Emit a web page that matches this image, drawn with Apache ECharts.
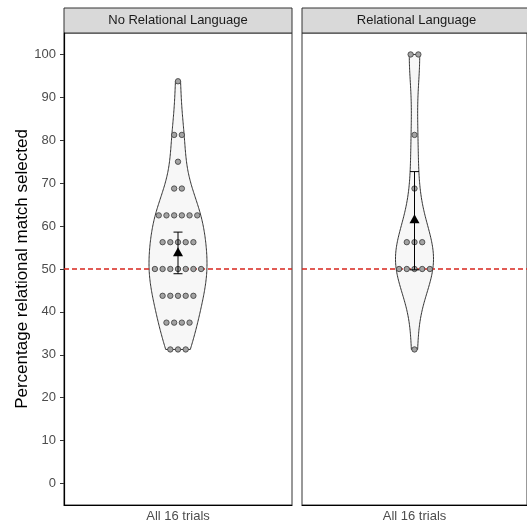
<!DOCTYPE html>
<html>
<head>
<meta charset="utf-8">
<script src="https://cdn.jsdelivr.net/npm/echarts@6/dist/echarts.min.js"></script>
<style>
html, body { margin: 0; padding: 0; background: #fff; }
#chart { width: 527px; height: 527px; }
</style>
</head>
<body>
<div id="chart"></div>
<script>
// facets and the single x category
const panels = ['No Relational Language', 'Relational Language'];
const xCategory = ['All 16 trials'];
// score levels (k of 16 trials) and number of participants at each level
const scoreLevels = [31.25, 37.5, 43.75, 50, 56.25, 62.5, 68.75, 75, 81.25, 87.5, 93.75, 100];
const noLangCounts = [3, 4, 5, 7, 5, 6, 2, 1, 2, 0, 1, 0];
const langCounts = [1, 0, 0, 5, 3, 0, 1, 0, 1, 0, 0, 2];
// mean and confidence interval per facet
const means = [53.8, 61.5];
const ciLow = [48.9, 49.8];
const ciHigh = [58.6, 72.7];
const chanceLevel = 50;
const yTicks = [0, 10, 20, 30, 40, 50, 60, 70, 80, 90, 100];

const FONT = 'Liberation Sans, Arial, sans-serif';
const RED = '#D7261E';
const violinHalf = [29, 19]; // px, widest point of each violin
const dotStep = 7.7;

function expand(counts) {
	let out = [];
	scoreLevels.forEach((v, i) => {
		for (let k = 0; k < counts[i]; k++) out.push(v);
	});
	return out;
}

function quantile(sorted, p) {
	let h = (sorted.length - 1) * p;
	let lo = Math.floor(h);
	let hi = Math.min(lo + 1, sorted.length - 1);
	return sorted[lo] + (h - lo) * (sorted[hi] - sorted[lo]);
}

// gaussian kde, bw.nrd0, trimmed to the data range (like geom_violin)
function density(values) {
	let x = values.slice().sort((a, b) => a - b);
	let n = x.length;
	let mean = x.reduce((a, b) => a + b, 0) / n;
	let sd = Math.sqrt(x.reduce((a, b) => a + (b - mean) * (b - mean), 0) / (n - 1));
	let iqr = quantile(x, 0.75) - quantile(x, 0.25);
	let bw = 0.9 * Math.min(sd, iqr / 1.34) * Math.pow(n, -0.2);
	let lo = x[0], hi = x[n - 1];
	let pts = [];
	let steps = 200;
	for (let i = 0; i <= steps; i++) {
		let g = lo + (hi - lo) * i / steps;
		let d = 0;
		x.forEach((v) => {
			let z = (g - v) / bw;
			d += Math.exp(-0.5 * z * z);
		});
		pts.push([g, d / (n * bw * Math.sqrt(2 * Math.PI))]);
	}
	return pts;
}

const groups = [noLangCounts, langCounts].map(expand);
const curves = groups.map(density);

function violinSeries(p) {
	let curve = curves[p];
	let maxD = Math.max(...curve.map((c) => c[1]));
	return {
		type: 'custom',
		xAxisIndex: p,
		yAxisIndex: p,
		z: 1,
		data: [[0, chanceLevel]],
		renderItem: (params, api) => {
			let right = [], left = [];
			curve.forEach(([v, d]) => {
				let c = api.coord([0, v]);
				let w = d / maxD * violinHalf[p];
				right.push([c[0] + w, c[1]]);
				left.push([c[0] - w, c[1]]);
			});
			return {
				type: 'polygon',
				shape: { points: right.concat(left.reverse()) },
				style: { fill: '#F7F7F7', stroke: '#333333', lineWidth: 1 }
			};
		}
	};
}

// dashed chance line across the whole panel
function refLineSeries(p) {
	return {
		type: 'custom',
		xAxisIndex: p,
		yAxisIndex: p,
		z: 2,
		silent: true,
		data: [[0, chanceLevel]],
		renderItem: (params, api) => {
			let y = api.coord([0, api.value(1)])[1];
			let cs = params.coordSys;
			return {
				type: 'line',
				shape: { x1: cs.x, y1: y, x2: cs.x + cs.width, y2: y },
				style: { stroke: RED, lineWidth: 1.3, lineDash: [5, 3] }
			};
		}
	};
}

function dotSeries(p) {
	let counts = p == 0 ? noLangCounts : langCounts;
	let data = [];
	scoreLevels.forEach((v, i) => {
		for (let k = 0; k < counts[i]; k++) data.push([0, v, k, counts[i]]);
	});
	return {
		type: 'custom',
		xAxisIndex: p,
		yAxisIndex: p,
		z: 3,
		encode: { x: 0, y: 1 },
		data: data,
		renderItem: (params, api) => {
			let c = api.coord([0, api.value(1)]);
			let k = api.value(2), n = api.value(3);
			return {
				type: 'circle',
				shape: { cx: c[0] + (k - (n - 1) / 2) * dotStep, cy: c[1], r: 2.7 },
				style: { fill: '#A3A3A3', stroke: '#3A3A3A', lineWidth: 0.8 }
			};
		}
	};
}

function statSeries(p) {
	return {
		type: 'custom',
		xAxisIndex: p,
		yAxisIndex: p,
		z: 4,
		encode: { x: 0, y: 1 },
		data: [[0, means[p], ciLow[p], ciHigh[p]]],
		renderItem: (params, api) => {
			let m = api.coord([0, api.value(1)]);
			let lo = api.coord([0, api.value(2)]);
			let hi = api.coord([0, api.value(3)]);
			let x = m[0], cap = 4.5;
			let ls = { stroke: '#000', lineWidth: 1 };
			return {
				type: 'group',
				children: [
					{ type: 'line', shape: { x1: x, y1: lo[1], x2: x, y2: hi[1] }, style: ls },
					{ type: 'line', shape: { x1: x - cap, y1: lo[1], x2: x + cap, y2: lo[1] }, style: ls },
					{ type: 'line', shape: { x1: x - cap, y1: hi[1], x2: x + cap, y2: hi[1] }, style: ls },
					{
						type: 'polygon',
						shape: { points: [[x, m[1] - 5.5], [x + 5, m[1] + 3.5], [x - 5, m[1] + 3.5]] },
						style: { fill: '#000' }
					}
				]
			};
		}
	};
}

const grids = [
	{ left: 64, top: 33, width: 228, height: 472 },
	{ left: 302, top: 33, width: 229, height: 472 }
];

let option = {
	animation: false,
	backgroundColor: '#fff',
	textStyle: { fontFamily: FONT },
	grid: grids.map((g) => ({ ...g, show: true, borderColor: '#333', borderWidth: 1, backgroundColor: '#fff' })),
	xAxis: panels.map((name, p) => ({
		type: 'category',
		gridIndex: p,
		data: xCategory,
		axisLine: { onZero: false, lineStyle: { color: '#000', width: 1.2 } },
		axisTick: { alignWithLabel: true, length: 4, lineStyle: { color: '#333' } },
		axisLabel: { color: '#4D4D4D', fontSize: 13, margin: 5, fontFamily: FONT },
		splitLine: { show: false }
	})),
	yAxis: panels.map((name, p) => ({
		type: 'value',
		gridIndex: p,
		min: -5,
		max: 105,
		name: p == 0 ? 'Percentage relational match selected' : '',
		nameLocation: 'middle',
		nameGap: 28,
		nameTextStyle: { color: '#000', fontSize: 17, fontFamily: FONT },
		axisLine: { show: p == 0, onZero: false, lineStyle: { color: '#000', width: 1.2 } },
		axisTick: { show: p == 0, length: 4, customValues: yTicks, lineStyle: { color: '#333' } },
		axisLabel: { show: p == 0, customValues: yTicks, color: '#4D4D4D', fontSize: 13, margin: 8, fontFamily: FONT },
		splitLine: { show: false }
	})),
	graphic: panels.flatMap((name, p) => [
		{
			type: 'rect',
			shape: { x: grids[p].left, y: 8, width: grids[p].width, height: 25 },
			style: { fill: '#D9D9D9', stroke: '#333', lineWidth: 1 }
		},
		{
			type: 'text',
			x: grids[p].left + grids[p].width / 2,
			y: 20.5,
			style: {
				text: name,
				fill: '#1A1A1A',
				fontSize: 13,
				fontFamily: FONT,
				align: 'center',
				verticalAlign: 'middle',
				textAlign: 'center',
				textVerticalAlign: 'middle'
			}
		}
	]),
	series: [0, 1].flatMap((p) => [violinSeries(p), refLineSeries(p), dotSeries(p), statSeries(p)])
};

let chart = echarts.init(document.getElementById('chart'), null, { renderer: 'canvas' });
chart.setOption(option);
</script>
</body>
</html>
